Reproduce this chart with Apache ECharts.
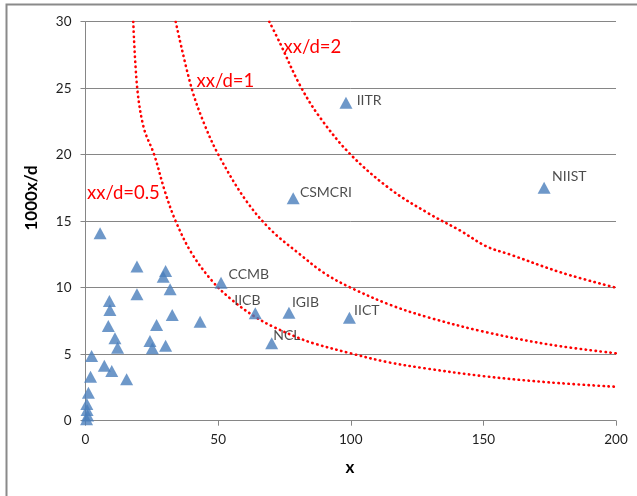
<!DOCTYPE html>
<html><head><meta charset="utf-8">
<script src="https://cdn.jsdelivr.net/npm/echarts/dist/echarts.min.js"></script>
<style>html,body{margin:0;padding:0;background:#fff}#c{width:637px;height:496px}</style>
</head><body><div id="c"></div>
<script>
// Institute data points (x, 1000x/d)
const pointX = [5.5, 19.4, 30.2, 29.3, 31.9, 19.4, 9.0, 9.2, 32.7, 43.2, 26.8, 8.6, 11.1, 24.3, 12.1, 25.2, 30.2, 2.3, 7.1, 9.9, 15.5, 1.9, 1.1, 0.5, 0.6, 0.8, 0.4,
                51.1, 64.0, 76.7, 70.2, 99.5, 78.3, 98.2, 172.9];
const pointY = [14.1, 11.6, 11.26, 10.83, 9.88, 9.5, 9.0, 8.32, 7.95, 7.44, 7.2, 7.12, 6.19, 6.0, 5.49, 5.44, 5.64, 4.86, 4.14, 3.74, 3.11, 3.31, 2.11, 1.26, 0.8, 0.4, 0.1,
                10.38, 8.07, 8.12, 5.82, 7.74, 16.72, 23.9, 17.52];
const pointNames = ['', '', '', '', '', '', '', '', '', '', '', '', '', '', '', '', '', '', '', '', '', '', '', '', '', '', '',
                'CCMB', 'IICB', 'IGIB', 'NCL', 'IICT', 'CSMCRI', 'IITR', 'NIIST'];

// Reference curves xx/d = const
const curveHalfX = [18.0, 19.5, 22.0, 25.9, 30.0, 34.0, 40.0, 48.2, 55.7, 64, 70.8, 80, 85.9, 100, 114, 128, 150, 175, 200];
const curveHalfY = [30, 25, 22.0, 20, 17.2, 15, 12.6, 10.4, 9.0, 7.8, 7.06, 6.25, 5.82, 5.06, 4.4, 3.94, 3.35, 2.88, 2.55];
const curveOneX = [34.0, 40.0, 45, 50.1, 60, 69.6, 80.9, 90, 100, 115, 129.2, 150, 175, 200];
const curveOneY = [30, 25, 22.2, 20, 16.7, 14.4, 12.5, 11.1, 10, 8.7, 7.77, 6.7, 5.72, 5.07];
const curveTwoX = [69.3, 73.3, 80.9, 88.4, 100, 115, 129.2, 141.2, 151.2, 160, 180, 200];
const curveTwoY = [30, 28.4, 25.2, 22.8, 20, 17.4, 15.6, 14.3, 13.1, 12.5, 11.1, 10.0];
const curveNames = ['xx/d=0.5', 'xx/d=1', 'xx/d=2'];

// Axis ticks
const xTicks = [0, 50, 100, 150, 200];
const yTicks = [0, 5, 10, 15, 20, 25, 30];

const FONT = 'Lato, "Open Sans", sans-serif';
const labelOffsets = {
  CCMB: [7.5, -8], IICB: [-21, -13], IGIB: [3, -10], NCL: [1.5, -7.5],
  IICT: [4.7, -7.7], CSMCRI: [6.7, -6.3], IITR: [10.7, -2.7], NIIST: [8, -11]
};

const zip = (xs, ys) => xs.map((v, i) => [v, ys[i]]);
const scatterData = pointX.map((v, i) => {
  const n = pointNames[i];
  const item = { value: [v, pointY[i]], name: n };
  if (n) {
    item.label = { show: true, position: 'inside', align: 'left', verticalAlign: 'middle',
      offset: labelOffsets[n], formatter: n, color: '#1e1e1e', fontSize: 14, fontFamily: FONT };
  }
  return item;
});

const dotted = { color: '#ff0000', width: 2.6, type: [0.4, 4.6], cap: 'round' };
const curves = [[curveHalfX, curveHalfY], [curveOneX, curveOneY], [curveTwoX, curveTwoY]];

const chart = echarts.init(document.getElementById('c'));
chart.setOption({
  animation: false,
  backgroundColor: '#fff',
  grid: { left: 85.5, right: 21, top: 21.7, bottom: 75.3, containLabel: false },
  xAxis: {
    type: 'value', min: xTicks[0], max: xTicks[xTicks.length - 1], interval: xTicks[1] - xTicks[0],
    axisLine: { show: true, lineStyle: { color: '#868686', width: 1 } },
    axisTick: { show: true, length: 5, lineStyle: { color: '#868686' } },
    axisLabel: { color: '#1e1e1e', fontSize: 13.5, fontFamily: FONT, margin: 12 },
    splitLine: { show: false }
  },
  yAxis: {
    type: 'value', min: yTicks[0], max: yTicks[yTicks.length - 1], interval: yTicks[1] - yTicks[0],
    axisLine: { show: true, lineStyle: { color: '#868686', width: 1 } },
    axisTick: { show: true, length: 5, lineStyle: { color: '#868686' } },
    axisLabel: { color: '#1e1e1e', fontSize: 13.5, fontFamily: FONT, margin: 14 },
    splitLine: { show: true, lineStyle: { color: '#868686', width: 1 } }
  },
  graphic: [
    { type: 'rect', shape: { x: 6.5, y: 4.5, width: 700, height: 600 }, style: { fill: 'none', stroke: '#8a8a8a', lineWidth: 2 }, silent: true, z: -1 },
    { type: 'text', x: 31.5, y: 198, rotation: Math.PI / 2,
      style: { text: '1000x/d', font: 'bold 17px ' + FONT, fill: '#000', textAlign: 'center', textVerticalAlign: 'middle' } },
    { type: 'text', x: 350, y: 468,
      style: { text: 'x', font: 'bold 17px ' + FONT, fill: '#000', textAlign: 'center', textVerticalAlign: 'middle' } },
    { type: 'text', x: 87, y: 193,
      style: { text: curveNames[0], font: '18.5px ' + FONT, fill: '#ff0000', textAlign: 'left', textVerticalAlign: 'middle' } },
    { type: 'text', x: 196.5, y: 81,
      style: { text: curveNames[1], font: '18.5px ' + FONT, fill: '#ff0000', textAlign: 'left', textVerticalAlign: 'middle' } },
    { type: 'text', x: 283.5, y: 47,
      style: { text: curveNames[2], font: '18.5px ' + FONT, fill: '#ff0000', textAlign: 'left', textVerticalAlign: 'middle' } }
  ],
  series: curves.map((c, k) => ({
    type: 'line', name: curveNames[k], data: zip(c[0], c[1]), showSymbol: false, smooth: 0.35,
    lineStyle: dotted, z: 2, silent: true
  })).concat([{
    type: 'scatter', name: 'institutes', data: scatterData, symbol: 'triangle', symbolSize: [13, 12],
    itemStyle: { color: '#4a7ebb' }, clip: false, z: 3
  }])
});
</script></body></html>
